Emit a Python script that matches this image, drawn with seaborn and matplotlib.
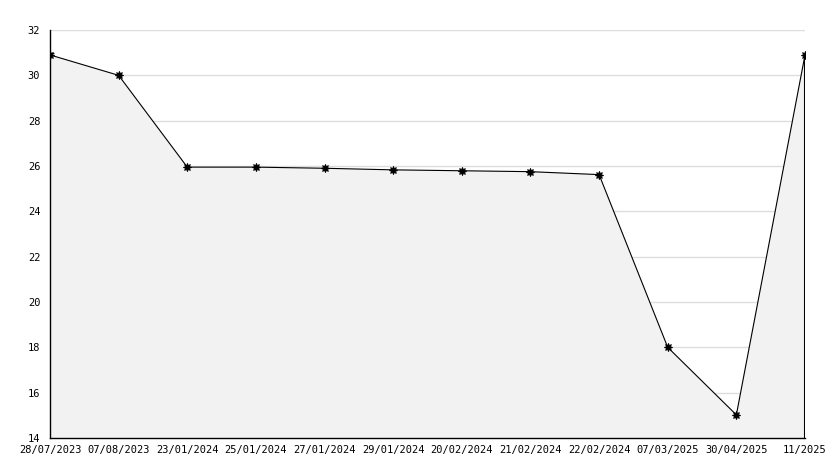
import numpy as np
import pandas as pd
import seaborn as sns
import matplotlib.pyplot as plt
from matplotlib.ticker import MultipleLocator

dates = ['28/07/2023', '07/08/2023', '23/01/2024', '25/01/2024', '27/01/2024',
         '29/01/2024', '20/02/2024', '21/02/2024', '22/02/2024', '07/03/2025',
         '30/04/2025', '11/2025']
values = [30.9, 30.0, 25.95, 25.95, 25.9, 25.83, 25.79, 25.75, 25.62, 18.0, 15.02, 30.9]

df = pd.DataFrame({'pos': np.arange(len(dates)), 'value': values})

sns.set_style('white')
plt.rcParams['font.family'] = ['DejaVu Sans Mono']

fig = plt.figure(figsize=(8.34, 4.68), dpi=100)
ax = fig.add_axes([50 / 834, 1 - 438 / 468, 755 / 834, 408 / 468])

ax.fill_between(df['pos'], df['value'], 14, facecolor='#f2f2f2',
                edgecolor='none', zorder=1)
# closing edge of the filled area on the right
ax.vlines(df['pos'].iloc[-1], 14, df['value'].iloc[-1], color='black',
          linewidth=1.5, zorder=2)
sns.lineplot(data=df, x='pos', y='value', color='black', linewidth=0.8,
             marker=(8, 1, 0), markersize=6, markeredgewidth=0.6,
             markeredgecolor='black', ax=ax, zorder=3)

ax.set_xlim(0, len(dates) - 1)
ax.set_ylim(14, 32)
ax.set_xticks(df['pos'])
ax.set_xticklabels(dates)
ax.yaxis.set_major_locator(MultipleLocator(2))
ax.yaxis.set_minor_locator(MultipleLocator(1))
ax.grid(axis='y', which='major', color='#dddddd', linewidth=1, zorder=0)
ax.set_axisbelow(True)

ax.tick_params(axis='both', which='major', direction='in', length=5, width=1,
               labelsize=7.5, colors='black')
ax.tick_params(axis='y', which='minor', direction='in', length=3, width=1,
               left=True)
ax.tick_params(axis='x', pad=5)
ax.tick_params(axis='y', pad=7)
ax.set_xlabel('')
ax.set_ylabel('')

for side in ['top', 'right']:
    ax.spines[side].set_visible(False)
for side in ['left', 'bottom']:
    ax.spines[side].set_color('black')
    ax.spines[side].set_linewidth(1)

fig.savefig('out.png', dpi=100)
